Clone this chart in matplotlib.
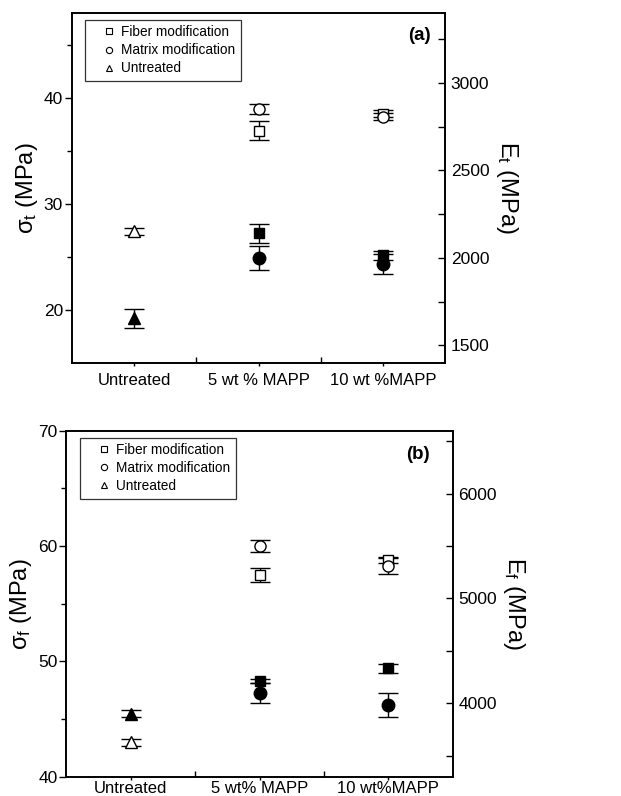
import matplotlib
matplotlib.use("Agg")
import matplotlib.pyplot as plt
from matplotlib.lines import Line2D
from matplotlib.ticker import FixedLocator

plt.rcParams['font.family'] = ['Liberation Sans', 'DejaVu Sans']
plt.rcParams['mathtext.fontset'] = 'custom'
plt.rcParams['mathtext.rm'] = 'Liberation Sans'
plt.rcParams['mathtext.it'] = 'Liberation Sans'
plt.rcParams['mathtext.default'] = 'regular'

# ---------------- data ----------------
categories_a = ['Untreated', '5 wt % MAPP', '10 wt %MAPP']
categories_b = ['Untreated', '5 wt% MAPP', '10 wt%MAPP']
legend_labels = ['Fiber modification', 'Matrix modification', 'Untreated']

# panel (a): tensile strength (left axis, open) and modulus (right axis, filled)
untreated_sigma_t, untreated_sigma_t_err = [27.4], [0.3]
fiber_sigma_t, fiber_sigma_t_err = [36.9, 38.5], [0.86, 0.3]
matrix_sigma_t, matrix_sigma_t_err = [38.9, 38.2], [0.47, 0.35]
untreated_E_t, untreated_E_t_err = [1655], [53]
fiber_E_t, fiber_E_t_err = [2140, 2015], [55, 25]
matrix_E_t, matrix_E_t_err = [2000, 1965], [70, 55]

# panel (b): flexural strength (left axis, open) and modulus (right axis, filled)
untreated_sigma_f, untreated_sigma_f_err = [43.0], [0.3]
fiber_sigma_f, fiber_sigma_f_err = [57.5, 58.75], [0.6, 0.2]
matrix_sigma_f, matrix_sigma_f_err = [60.0, 58.3], [0.53, 0.75]
untreated_E_f, untreated_E_f_err = [3900], [35]
fiber_E_f, fiber_E_f_err = [4210, 4335], [20, 43]
matrix_E_f, matrix_E_f_err = [4100, 3985], [95, 117]

x_untreated = [1]
x_mapp = [2, 3]

fig = plt.figure(figsize=(6.21, 7.96), dpi=100)

eb_kw = dict(ecolor='black', elinewidth=1.0, capsize=7, capthick=1.1,
             linestyle='none', markeredgecolor='black', markeredgewidth=1.0)


def panel(rect, cats, left_lim, left_ticks, left_minor, right_lim, right_ticks, right_minor,
          ylab_left, ylab_right, tag, tag_xy, xpad, open_data, filled_data):
    ax = fig.add_axes(rect)
    ax2 = ax.twinx()
    (ux, uy, ue), (fy, fe), (my, me) = open_data
    (uxf, uyf, uef), (fyf, fef), (myf, mef) = filled_data
    # open symbols (left axis)
    ax.errorbar(ux, uy, yerr=ue, marker='^', markersize=9, markerfacecolor='white', **eb_kw)
    ax.errorbar(x_mapp, fy, yerr=fe, marker='s', markersize=7.5, markerfacecolor='white', **eb_kw)
    ax.errorbar(x_mapp, my, yerr=me, marker='o', markersize=8, markerfacecolor='white', **eb_kw)
    # filled symbols (right axis)
    ax2.errorbar(uxf, uyf, yerr=uef, marker='^', markersize=9, markerfacecolor='black', **eb_kw)
    ax2.errorbar(x_mapp, fyf, yerr=fef, marker='s', markersize=7.5, markerfacecolor='black', **eb_kw)
    ax2.errorbar(x_mapp, myf, yerr=mef, marker='o', markersize=9, markerfacecolor='black', **eb_kw)

    ax.set_xlim(0.5, 3.5)
    ax.set_xticks([1, 2, 3])
    ax.set_xticklabels(cats, fontsize=12)
    ax.xaxis.set_minor_locator(FixedLocator([1.5, 2.5]))
    ax.tick_params(axis='x', which='major', direction='out', length=2.5, width=1, pad=xpad)
    ax.tick_params(axis='x', which='minor', direction='in', length=4, width=1)

    ax.set_ylim(*left_lim)
    ax.set_yticks(left_ticks)
    ax.yaxis.set_minor_locator(FixedLocator(left_minor))
    ax.tick_params(axis='y', which='major', direction='out', length=5, width=1, labelsize=12.5, pad=1.5)
    ax.tick_params(axis='y', which='minor', direction='out', length=3.5, width=1)

    ax2.set_ylim(*right_lim)
    ax2.set_yticks(right_ticks)
    ax2.yaxis.set_minor_locator(FixedLocator(right_minor))
    ax2.tick_params(axis='y', which='major', direction='in', length=5, width=1, labelsize=12.5, pad=4)
    ax2.tick_params(axis='y', which='minor', direction='in', length=5, width=1)

    for a in (ax, ax2):
        for s in a.spines.values():
            s.set_linewidth(1.2)

    ax.set_ylabel(ylab_left, fontsize=17, labelpad=3)
    ax2.set_ylabel(ylab_right, fontsize=17, rotation=270, labelpad=22)

    handles = [Line2D([], [], linestyle='none', marker=m, markersize=4.5, markerfacecolor='white',
                      markeredgecolor='black', markeredgewidth=0.8) for m in ('s', 'o', '^')]
    leg = ax2.legend(handles, legend_labels, loc='upper left', bbox_to_anchor=(0.035, 0.98),
                     fontsize=9.8, frameon=True, fancybox=False, edgecolor='black',
                     borderpad=0.4, labelspacing=0.3, handlelength=2.7, handletextpad=-0.45,
                     borderaxespad=0.0)
    leg.get_frame().set_linewidth(0.9)
    ax2.text(tag_xy[0], tag_xy[1], tag, transform=ax.transAxes, ha='right', va='center',
             fontsize=13.5, fontweight='bold')
    return ax, ax2


panel([0.116, 0.544, 0.601, 0.44], categories_a, (15, 48), [20, 30, 40], [25, 35, 45],
      (1400, 3400), [1500, 2000, 2500, 3000], [1750, 2250, 2750, 3250],
      'σ$_\\mathregular{t}$ (MPa)', 'E$_\\mathregular{t}$ (MPa)', '(a)', (0.96, 0.935), 5,
      ((x_untreated, untreated_sigma_t, untreated_sigma_t_err),
       (fiber_sigma_t, fiber_sigma_t_err), (matrix_sigma_t, matrix_sigma_t_err)),
      ((x_untreated, untreated_E_t, untreated_E_t_err),
       (fiber_E_t, fiber_E_t_err), (matrix_E_t, matrix_E_t_err)))

panel([0.107, 0.0242, 0.622, 0.4347], categories_b, (40, 70), [40, 50, 60, 70], [45, 55, 65],
      (3300, 6600), [4000, 5000, 6000], [3500, 4500, 5500, 6500],
      'σ$_\\mathregular{f}$ (MPa)', 'E$_\\mathregular{f}$ (MPa)', '(b)', (0.941, 0.93), 0.5,
      ((x_untreated, untreated_sigma_f, untreated_sigma_f_err),
       (fiber_sigma_f, fiber_sigma_f_err), (matrix_sigma_f, matrix_sigma_f_err)),
      ((x_untreated, untreated_E_f, untreated_E_f_err),
       (fiber_E_f, fiber_E_f_err), (matrix_E_f, matrix_E_f_err)))

fig.savefig('out.png', dpi=100)
